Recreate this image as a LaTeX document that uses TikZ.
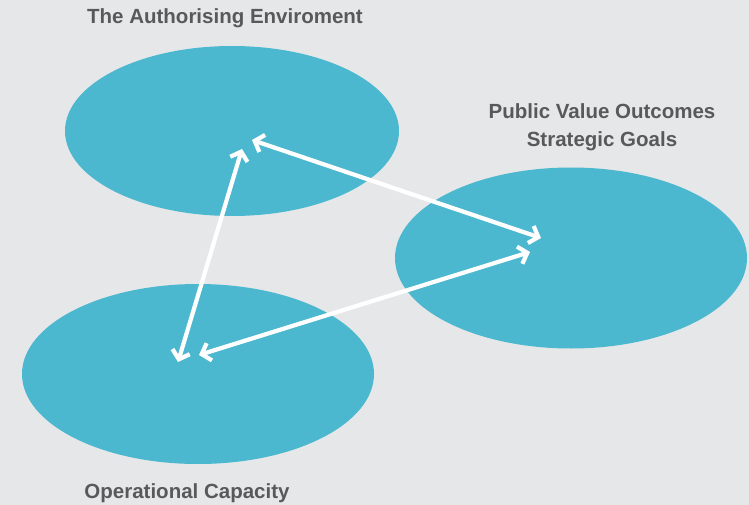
\documentclass[tikz,border=0pt]{standalone}
\usepackage{fontspec}
\setmainfont{Liberation Sans}
\usetikzlibrary{shapes.geometric,arrows.meta}
\definecolor{bgc}{HTML}{E6E7E8}
\definecolor{blob}{HTML}{4BB8D0}
\definecolor{txt}{HTML}{58595B}
\tikzset{
  blobnode/.style={ellipse, fill=blob, draw=none, inner sep=0pt},
  lbl/.style={text=txt, font=\bfseries\fontsize{20.5}{28}\selectfont, align=center, inner sep=0pt},
  link/.style={draw=white, line width=4.2pt, {Straight Barb[length=8pt,width=18pt,line width=4.2pt]}-{Straight Barb[length=8pt,width=18pt,line width=4.2pt]}}
}
\begin{document}
\begin{tikzpicture}[x=1pt,y=-1pt]
\fill[bgc] (0,0) rectangle (749,505);
\useasboundingbox (0,0) rectangle (749,505);
\node[blobnode, minimum width=334pt, minimum height=170pt] (auth) at (232,131) {};
\node[blobnode, minimum width=352pt, minimum height=181pt] (pub) at (571,258) {};
\node[blobnode, minimum width=352pt, minimum height=180pt] (oper) at (198,374) {};
\node[lbl] (tauth) at (225,18) {The Authorising Enviroment};
\node[lbl] (tpub) at (602,127) {Public Value Outcomes\\Strategic Goals};
\node[lbl] (toper) at (187,493) {Operational Capacity};
\coordinate (a1) at (252,140);
\coordinate (p1) at (541,238);
\coordinate (a2) at (242,149);
\coordinate (o2) at (178,362);
\coordinate (o3) at (199,355);
\coordinate (p3) at (530,252);
\draw[link] (a1) -- (p1);
\draw[link] (a2) -- (o2);
\draw[link] (o3) -- (p3);
\end{tikzpicture}
\end{document}
